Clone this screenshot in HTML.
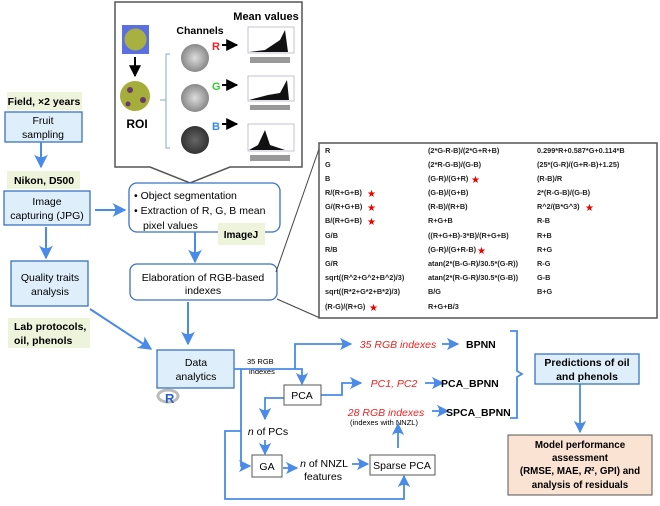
<!DOCTYPE html>
<html><head><meta charset="utf-8"><style>
body{margin:0;background:#fff}
svg text{font-family:"Liberation Sans",sans-serif}
</style></head><body>
<svg width="660" height="501" viewBox="0 0 660 501" xmlns="http://www.w3.org/2000/svg">
<defs>
<marker id="a" viewBox="0 0 10 10" refX="9" refY="5" markerWidth="7" markerHeight="7" orient="auto"><path d="M0,0 L10,5 L0,10 Q4,5 0,0Z" fill="#4a8ae8"/></marker>
<marker id="k" viewBox="0 0 10 10" refX="9" refY="5" markerWidth="6" markerHeight="6" orient="auto"><path d="M0,0 L10,5 L0,10Z" fill="#000"/></marker>
<radialGradient id="g1"><stop offset="0" stop-color="#ddd"/><stop offset="1" stop-color="#888"/></radialGradient>
<radialGradient id="g3"><stop offset="0" stop-color="#666"/><stop offset="1" stop-color="#333"/></radialGradient>
</defs>

<path d="M115,2 H302 V167 H230 L190,183 L150,167 H115 Z" fill="#fff" stroke="#555" stroke-width="1.5"/>
<rect x="122" y="25" width="27" height="29" fill="#5b6fe0"/>
<circle cx="135.5" cy="39.5" r="11" fill="#a8b040"/>
<line x1="135" y1="57" x2="135" y2="76" stroke="#000" stroke-width="2" marker-end="url(#k)"/>
<circle cx="135" cy="96" r="15" fill="#a5ae3a"/>
<circle cx="130" cy="90" r="3" fill="#6a3a6a"/><circle cx="143" cy="100" r="3" fill="#6a3a6a"/><circle cx="128" cy="104" r="2.5" fill="#6a3a6a"/>
<text x="137" y="128" font-size="12" font-weight="bold" text-anchor="middle">ROI</text>
<path d="M170,54 H166 V148 H170 M166,100 H160" fill="none" stroke="#8ab" stroke-width="1"/>
<text x="200" y="34" font-size="10.5" font-weight="bold" text-anchor="middle">Channels</text>
<text x="266" y="20" font-size="11" font-weight="bold" text-anchor="middle">Mean values</text>
<circle cx="195" cy="58" r="14" fill="url(#g1)"/>
<circle cx="195" cy="98" r="14" fill="url(#g1)"/>
<circle cx="195" cy="140" r="14" fill="url(#g3)"/>
<text x="212" y="50" font-size="11" font-weight="bold" fill="#e22">R</text>
<text x="212" y="90" font-size="11" font-weight="bold" fill="#3c3">G</text>
<text x="212" y="130" font-size="11" font-weight="bold" fill="#38e">B</text>
<line x1="222" y1="45" x2="237" y2="45" stroke="#000" stroke-width="2" marker-end="url(#k)"/>
<line x1="222" y1="85" x2="237" y2="85" stroke="#000" stroke-width="2" marker-end="url(#k)"/>
<line x1="222" y1="124" x2="237" y2="124" stroke="#000" stroke-width="2" marker-end="url(#k)"/>
<g stroke="#aab" fill="#fff" stroke-width=".7">
<rect x="248" y="27" width="46" height="26"/><rect x="248" y="76" width="46" height="25"/><rect x="248" y="124" width="46" height="27"/></g>
<path d="M249,52 L265,50 L280,40 L285,30 L288,52Z" fill="#111"/>
<path d="M249,100 L268,95 L280,93 L287,80 L289,100Z" fill="#111"/>
<path d="M249,150 L258,145 L265,130 L270,145 L285,150Z" fill="#111"/>
<g fill="#999"><rect x="250" y="57" width="40" height="6"/><rect x="250" y="105" width="40" height="5"/><rect x="250" y="155" width="40" height="6"/></g>

<rect x="7" y="92" width="75" height="18" fill="#eef3dc"/>
<text x="44" y="105" font-size="10.5" font-weight="bold" text-anchor="middle">Field, ×2 years</text>
<rect x="5" y="112" width="77" height="30" fill="#deeefa" stroke="#3a72c4" stroke-width="1.3"/>
<text x="43" y="124" font-size="10.5" text-anchor="middle">Fruit</text>
<text x="43" y="138" font-size="10.5" text-anchor="middle">sampling</text>
<line x1="41" y1="142" x2="41" y2="167" stroke="#4a8ae8" stroke-width="2" marker-end="url(#a)"/>
<rect x="7" y="171" width="73" height="18" fill="#eef3dc"/>
<text x="44" y="184" font-size="10.5" font-weight="bold" text-anchor="middle">Nikon, D500</text>
<rect x="4" y="191" width="86" height="34" fill="#deeefa" stroke="#3a72c4" stroke-width="1.3"/>
<text x="47" y="205" font-size="10.5" text-anchor="middle">Image</text>
<text x="47" y="219" font-size="10.5" text-anchor="middle">capturing (JPG)</text>
<line x1="95" y1="210" x2="125" y2="210" stroke="#4a8ae8" stroke-width="2" marker-end="url(#a)"/>
<line x1="46" y1="227" x2="46" y2="258" stroke="#4a8ae8" stroke-width="2" marker-end="url(#a)"/>
<rect x="11" y="261" width="77" height="45" fill="#deeefa" stroke="#3a72c4" stroke-width="1.3"/>
<text x="50" y="281" font-size="10.5" text-anchor="middle">Quality traits</text>
<text x="50" y="295" font-size="10.5" text-anchor="middle">analysis</text>
<rect x="8" y="318" width="82" height="30" fill="#eef3dc"/>
<text x="14" y="330" font-size="10.5" font-weight="bold">Lab protocols,</text>
<text x="14" y="344" font-size="10.5" font-weight="bold">oil, phenols</text>
<line x1="90" y1="309" x2="151" y2="349" stroke="#4a8ae8" stroke-width="2" marker-end="url(#a)"/>

<rect x="129" y="183" width="151" height="49" rx="8" fill="#fff" stroke="#3a72c4" stroke-width="1.3"/>
<text x="134" y="199" font-size="10.5">•  Object segmentation</text>
<text x="134" y="214" font-size="10.5">•  Extraction of R, G, B  mean</text>
<text x="143" y="229" font-size="10.5">pixel values</text>
<rect x="218" y="223" width="47" height="22" fill="#eef3dc"/>
<text x="241" y="238" font-size="10" font-weight="bold" text-anchor="middle">ImageJ</text>
<line x1="195" y1="232" x2="195" y2="262" stroke="#4a8ae8" stroke-width="2" marker-end="url(#a)"/>
<rect x="130" y="264" width="147" height="36" rx="7" fill="#fff" stroke="#3a72c4" stroke-width="1.3"/>
<text x="203" y="281" font-size="10.5" text-anchor="middle">Elaboration of  RGB-based</text>
<text x="203" y="294" font-size="10.5" text-anchor="middle">indexes</text>
<line x1="188" y1="302" x2="188" y2="344" stroke="#4a8ae8" stroke-width="2" marker-end="url(#a)"/>
<line x1="276" y1="272" x2="320" y2="146" stroke="#444" stroke-width="1"/>
<line x1="277" y1="299" x2="320" y2="318" stroke="#444" stroke-width="1"/>

<rect x="319" y="143" width="338" height="175" fill="#fff" stroke="#555" stroke-width="1.5"/>
<g font-size="7.3" font-weight="bold" fill="#222">
<text x="325" y="153">R</text><text x="428" y="153">(2*G-R-B)/(2*G+R+B)</text><text x="537" y="153">0.299*R+0.587*G+0.114*B</text>
<text x="325" y="167">G</text><text x="428" y="167">(2*R-G-B)/(G-B)</text><text x="537" y="167">(25*(G-R)/(G+R-B)+1.25)</text>
<text x="325" y="181">B</text><text x="428" y="181">(G-R)/(G+R)</text><text x="537" y="181">(R-B)/R</text>
<text x="325" y="195">R/(R+G+B)</text><text x="428" y="195">(G-B)/(G+B)</text><text x="537" y="195">2*(R-G-B)/(G-B)</text>
<text x="325" y="209">G/(R+G+B)</text><text x="428" y="209">(R-B)/(R+B)</text><text x="537" y="209">R^2/(B*G^3)</text>
<text x="325" y="223">B/(R+G+B)</text><text x="428" y="223">R+G+B</text><text x="537" y="223">R-B</text>
<text x="325" y="238">G/B</text><text x="428" y="238">((R+G+B)-3*B)/(R+G+B)</text><text x="537" y="238">R+B</text>
<text x="325" y="252">R/B</text><text x="428" y="252">(G-R)/(G+R-B)</text><text x="537" y="252">R+G</text>
<text x="325" y="266">G/R</text><text x="428" y="266">atan(2*(B-G-R)/30.5*(G-R))</text><text x="537" y="266">R-G</text>
<text x="325" y="280">sqrt((R^2+G^2+B^2)/3)</text><text x="428" y="280">atan(2*(R-G-R)/30.5*(G-B))</text><text x="537" y="280">G-B</text>
<text x="325" y="294">sqrt((R*2+G*2+B*2)/3)</text><text x="428" y="294">B/G</text><text x="537" y="294">B+G</text>
<text x="325" y="309">(R-G)/(R+G)</text><text x="428" y="309">R+G+B/3</text>
</g>
<g font-size="10" fill="#e00">
<text x="471" y="183">★</text><text x="367" y="197">★</text><text x="367" y="211">★</text><text x="367" y="225">★</text><text x="585" y="211">★</text><text x="477" y="254">★</text><text x="369" y="311">★</text>
</g>

<rect x="157" y="350" width="77" height="38" fill="#deeefa" stroke="#3a72c4" stroke-width="1.3"/>
<text x="196" y="366" font-size="10.5" text-anchor="middle">Data</text>
<text x="196" y="380" font-size="10.5" text-anchor="middle">analytics</text>
<ellipse cx="168" cy="396" rx="10" ry="6" fill="none" stroke="#bbb" stroke-width="3"/>
<text x="165" y="403" font-size="13" font-weight="bold" fill="#2a62c4">R</text>
<text x="247" y="364" font-size="7.5">35 RGB</text>
<text x="249" y="374" font-size="7.5">indexes</text>
<g fill="none" stroke="#4a8ae8" stroke-width="1.8">
<path d="M234,369 H302 V384" marker-end="url(#a)"/>
<path d="M295,369 V344 H351" marker-end="url(#a)"/>
<path d="M442,344 H458" marker-end="url(#a)"/>
<path d="M321,395 H342 V383 H361" marker-end="url(#a)"/>
<path d="M425,383 H443" marker-end="url(#a)"/>
<path d="M432,411 H448" marker-end="url(#a)"/>
<path d="M284,398 H265 V419" marker-end="url(#a)"/>
<path d="M265,440 V454" marker-end="url(#a)"/>
<path d="M241,369 V466 H250" marker-end="url(#a)"/>
<path d="M241,431 H225 V499 H404 V476" marker-end="url(#a)"/>
<path d="M283,468 H297" marker-end="url(#a)"/>
<path d="M352,464 H368" marker-end="url(#a)"/>
<path d="M398,448 V424" marker-end="url(#a)"/>
<path d="M510,331 H517 V371 L522,374 L517,377 V418 H510"/>
<path d="M580,384 V432" marker-end="url(#a)"/>
</g>
<rect x="284" y="385" width="37" height="20" fill="#fff" stroke="#555" stroke-width="1"/>
<text x="302" y="399" font-size="10.5" text-anchor="middle">PCA</text>
<text x="398" y="348" font-size="10.5" font-style="italic" fill="#e22" text-anchor="middle">35 RGB indexes</text>
<text x="466" y="348" font-size="10.5" font-weight="bold">BPNN</text>
<text x="394" y="387" font-size="10.5" font-style="italic" fill="#e22" text-anchor="middle">PC1, PC2</text>
<text x="441" y="387" font-size="10.5" font-weight="bold">PCA_BPNN</text>
<text x="386" y="416" font-size="10.5" font-style="italic" fill="#e22" text-anchor="middle">28 RGB indexes</text>
<text x="384" y="425" font-size="7.5" text-anchor="middle">(indexes with NNZL)</text>
<text x="446" y="416" font-size="10.5" font-weight="bold">SPCA_BPNN</text>
<text x="268" y="435" font-size="10.5" text-anchor="middle"><tspan font-style="italic">n</tspan> of PCs</text>
<rect x="252" y="455" width="30" height="22" fill="#fff" stroke="#555" stroke-width="1"/>
<text x="267" y="470" font-size="10.5" text-anchor="middle">GA</text>
<text x="324" y="467" font-size="10.5" text-anchor="middle"><tspan font-style="italic">n</tspan> of NNZL</text>
<text x="323" y="480" font-size="10.5" text-anchor="middle">features</text>
<rect x="370" y="455" width="65" height="20" fill="#fff" stroke="#555" stroke-width="1"/>
<text x="402" y="469" font-size="10.5" text-anchor="middle">Sparse PCA</text>
<rect x="535" y="354" width="104" height="30" fill="#deeefa" stroke="#3a72c4" stroke-width="1.3"/>
<text x="587" y="366" font-size="10.5" font-weight="bold" text-anchor="middle">Predictions of oil</text>
<text x="587" y="380" font-size="10.5" font-weight="bold" text-anchor="middle">and phenols</text>
<rect x="508" y="435" width="144" height="60" fill="#fbe3d4" stroke="#555" stroke-width="1"/>
<g font-size="9.8" font-weight="bold" text-anchor="middle">
<text x="580" y="448">Model performance</text>
<text x="580" y="461">assessment</text>
<text x="580" y="474">(RMSE, MAE, <tspan font-style="italic">R</tspan>², GPI) and</text>
<text x="580" y="488">analysis of residuals</text>
</g>
</svg>
</body></html>
